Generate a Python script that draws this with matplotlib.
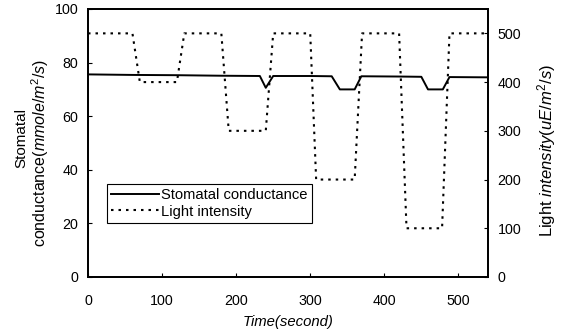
import matplotlib
matplotlib.use("Agg")
import matplotlib.pyplot as plt
from matplotlib.lines import Line2D

plt.rcParams['font.family'] = ['Liberation Sans', 'DejaVu Sans']
plt.rcParams['mathtext.fontset'] = 'custom'
plt.rcParams['mathtext.rm'] = 'Liberation Sans'
plt.rcParams['mathtext.it'] = 'Liberation Sans:italic'

# Stomatal conductance (left axis)
sc_time = [0, 60, 120, 180, 232, 240, 250, 300, 329, 340, 360, 369, 420, 450, 459, 479, 488, 540]
sc_value = [75.6, 75.4, 75.3, 75.1, 75.0, 70.6, 75.0, 75.0, 74.9, 70.0, 70.0, 74.9, 74.8, 74.7, 70.0, 70.0, 74.6, 74.5]

# Light intensity (right axis)
li_time = [0, 60, 70, 120, 130, 180, 190, 240, 250, 300, 308, 360, 370, 420, 430, 478, 488, 540]
li_value = [500, 500, 400, 400, 500, 500, 300, 300, 500, 500, 200, 200, 500, 500, 100, 100, 500, 500]

x_ticks = [0, 100, 200, 300, 400, 500]
left_ticks = [0, 20, 40, 60, 80, 100]
right_ticks = [0, 100, 200, 300, 400, 500]

DOT = (0, (1.2, 2.4))

fig = plt.figure(figsize=(5.61, 3.34), dpi=100)
ax = fig.add_axes([88/561, 1-277/334, 400/561, 268/334])
ax2 = ax.twinx()

ax.plot(sc_time, sc_value, color='black', lw=1.4)
ax2.plot(li_time, li_value, color='black', lw=1.5, linestyle=DOT)

ax.set_xlim(0, 540)
ax.set_ylim(0, 100)
ax2.set_ylim(0, 550)
ax.set_xticks(x_ticks)
ax.set_yticks(left_ticks)
ax2.set_yticks(right_ticks)

for a in (ax, ax2):
    a.tick_params(direction='in', length=3, width=0.8, labelsize=10.3, pad=7)
    for s in a.spines.values():
        s.set_linewidth(1.3)
ax.tick_params(axis='x', pad=12)

ax.set_xlabel('Time(second)', fontsize=10.7, style='italic', labelpad=5)
fig.text(21/561, 1-138/334, 'Stomatal', rotation=90, ha='center', va='center', fontsize=11)
fig.text(40/561, 1-153/334, 'conductance($\\it{mmole/m^2/s}$)', rotation=90, ha='center', va='center', fontsize=11.5)
fig.text(547/561, 1-150/334, 'Light $\\it{intensity(uE/m^2/s)}$', rotation=90, ha='center', va='center', fontsize=12)

handles = [Line2D([], [], color='black', lw=1.4),
           Line2D([], [], color='black', lw=1.5, linestyle=DOT)]
leg = ax.legend(handles, ['Stomatal conductance', 'Light intensity'],
                loc='upper left', bbox_to_anchor=((107-88)/400, (277-184)/268), fontsize=10.6,
                frameon=True, fancybox=False, edgecolor='black', framealpha=1,
                handlelength=3.2, handletextpad=0.15, borderpad=0.3, labelspacing=0.15,
                borderaxespad=0)
leg.get_frame().set_linewidth(0.8)

fig.savefig('out.png', dpi=100)
